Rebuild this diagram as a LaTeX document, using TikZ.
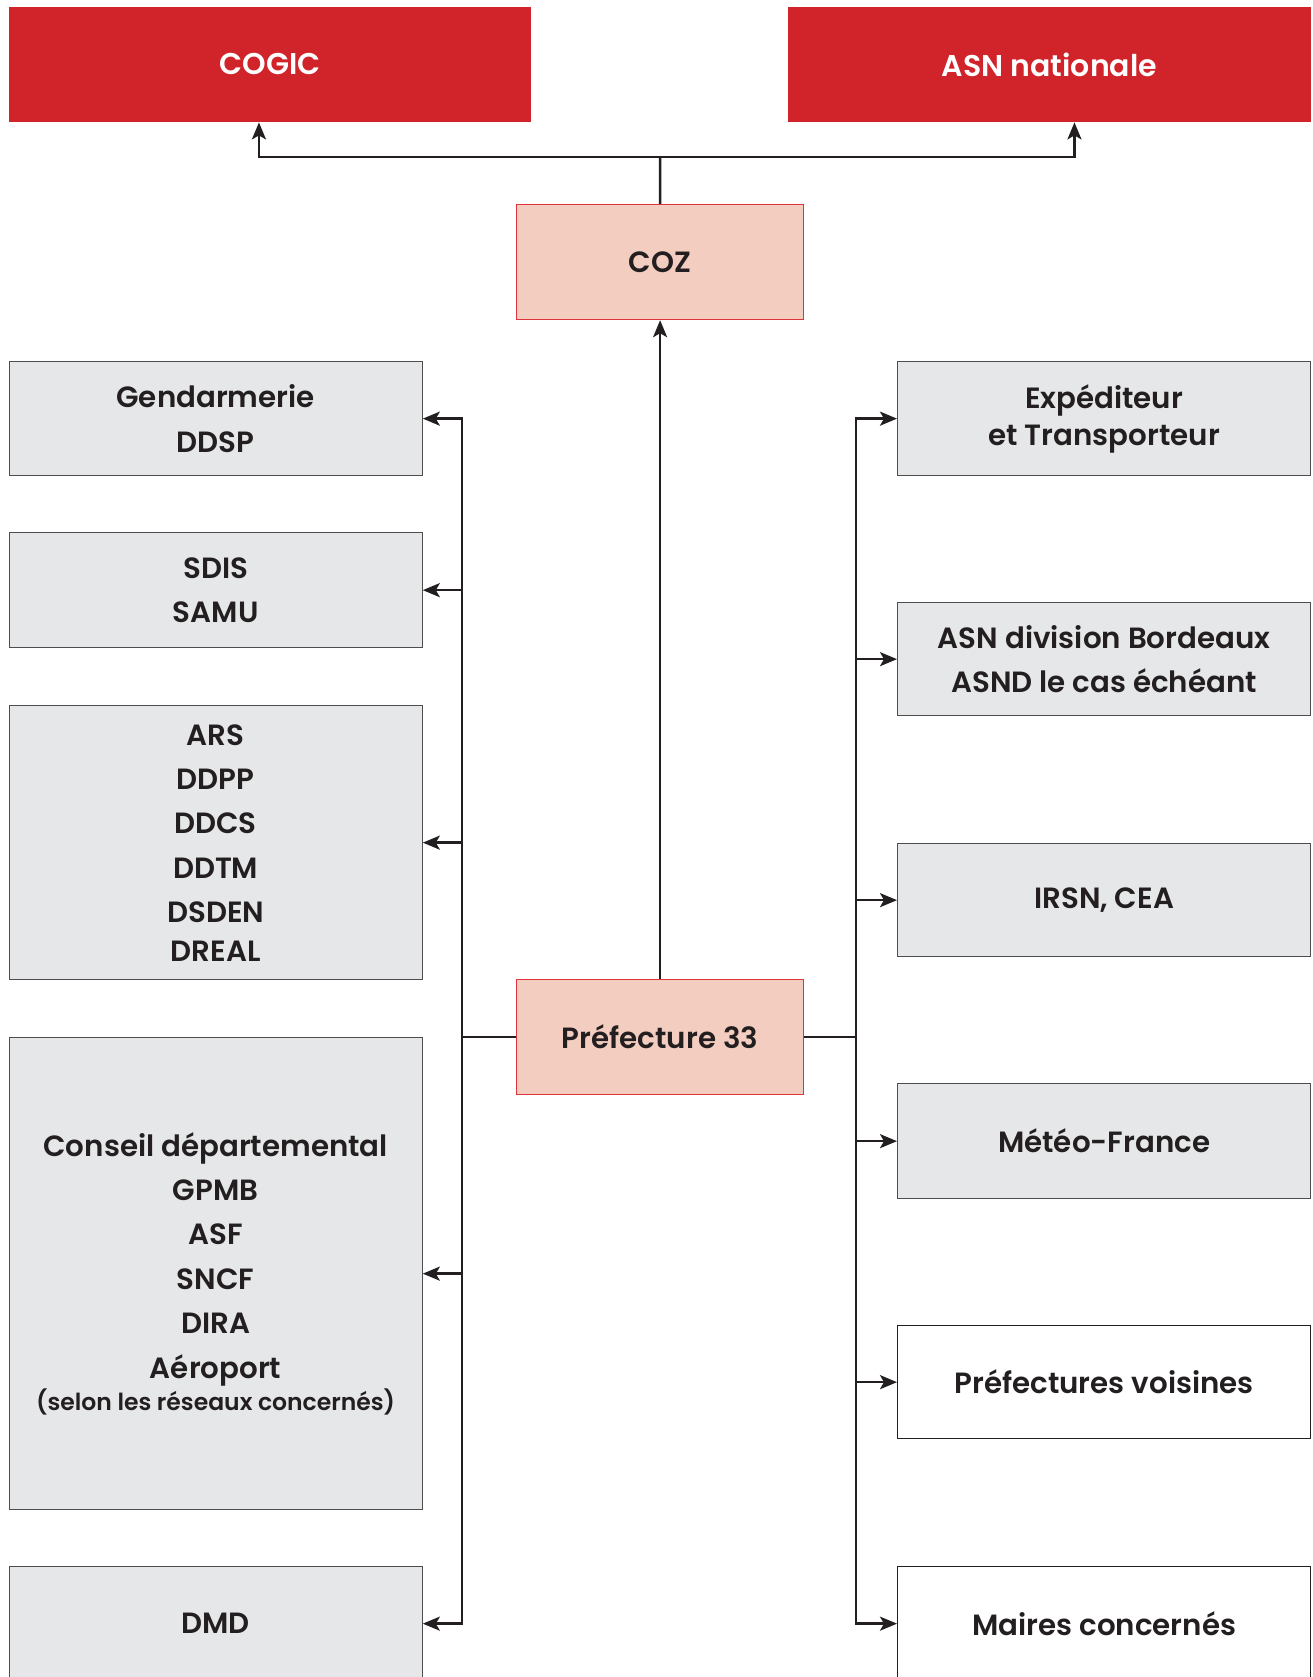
\documentclass[tikz,border=0pt]{standalone}
\usepackage{fontspec}
\setmainfont{Poppins}[BoldFont={Poppins SemiBold}]
\usetikzlibrary{arrows.meta,calc}
\definecolor{mred}{HTML}{D1232A}
\definecolor{cozfill}{HTML}{F3CEC0}
\definecolor{cozdraw}{HTML}{E0343C}
\definecolor{gfill}{HTML}{E6E7E8}
\definecolor{gdraw}{HTML}{4D4D4F}
\definecolor{ink}{HTML}{231F20}
\tikzset{
  base/.style={anchor=north west, inner sep=0pt, align=center, text=ink,
    font=\fontsize{29.3}{44.4}\selectfont\bfseries},
  redbox/.style={base, fill=mred, text=white, minimum width=522.5, minimum height=115.5,
    font=\fontsize{30}{44.4}\selectfont\bfseries},
  cozbox/.style={base, fill=cozfill, draw=cozdraw, line width=1.2, minimum width=287, minimum height=115},
  graybox/.style={base, fill=gfill, draw=gdraw, line width=1.3, minimum width=413},
  whitebox/.style={base, fill=white, draw=ink, line width=1.3, minimum width=413},
  conn/.style={draw=ink, line width=2.5},
  arr/.style={conn, -{Stealth[length=17, width=14, inset=4]}},
}
\begin{document}
\begin{tikzpicture}[x=1pt,y=1pt]
\useasboundingbox (0,0) rectangle (1312,-1677);
\clip (0,0) rectangle (1312,-1677);
\fill[white] (0,0) rectangle (1312,-1677);
% top red boxes
\node[redbox] (cogic) at (8.5,-6.5) {COGIC};
\node[redbox] (asn) at (788,-6.5) {ASN nationale};
% centre
\node[cozbox] (coz) at (516,-204) {COZ};
\node[cozbox] (pref) at (516,-979) {Préfecture 33};
% left column
\node[graybox, minimum height=114] (gend) at (8.5,-361) {Gendarmerie\\DDSP};
\node[graybox, minimum height=115] (sdis) at (8.5,-532) {SDIS\\SAMU};
\node[graybox, minimum height=274] (ars) at (8.5,-705) {ARS\\DDPP\\DDCS\\DDTM\\DSDEN\\[-6]DREAL};
\node[graybox, minimum height=472] (cons) at (8.5,-1037) {Conseil départemental\\GPMB\\ASF\\SNCF\\DIRA\\Aéroport\\[-12]{\fontsize{23.5}{27}\selectfont(selon les réseaux concernés)}};
\node[graybox, minimum height=114] (dmd) at (8.5,-1566) {DMD};
% right column
\node[graybox, minimum height=114] (exp) at (897,-361) {Expéditeur\\[-7]et Transporteur};
\node[graybox, minimum height=113] (asnd) at (897,-602) {ASN division Bordeaux\\ASND le cas échéant};
\node[graybox, minimum height=113] (irsn) at (897,-843) {IRSN, CEA};
\node[graybox, minimum height=115] (meteo) at (897,-1083) {Météo-France};
\node[whitebox, minimum height=113] (prefv) at (897,-1325) {Préfectures voisines};
\node[whitebox, minimum height=114] (maires) at (897,-1566) {Maires concernés};
% coordinates
\coordinate (top) at (660,-157);
\coordinate (lbus) at (462,-1036);
\coordinate (rbus) at (856,-1036);
% top connectors
\draw[arr] (pref.north) -- (coz.south);
\draw[conn] (coz.north) -- (top);
\draw[arr] (top) -| ([xshift=-11]cogic.south);
\draw[arr] (top) -| ([xshift=25]asn.south);
% left bus
\draw[conn] (pref.west) -- (pref.west -| lbus);
\draw[conn, line cap=rect] (lbus |- gend.east) -- (lbus |- dmd.east);
\foreach \n in {gend,sdis,ars,cons,dmd}
  \draw[arr] (lbus |- \n.east) -- (\n.east);
% right bus
\draw[conn] (pref.east) -- (pref.east -| rbus);
\draw[conn, line cap=rect] (rbus |- exp.west) -- (rbus |- maires.west);
\foreach \n in {exp,asnd,irsn,meteo,prefv,maires}
  \draw[arr] (rbus |- \n.west) -- (\n.west);
\end{tikzpicture}
\end{document}
